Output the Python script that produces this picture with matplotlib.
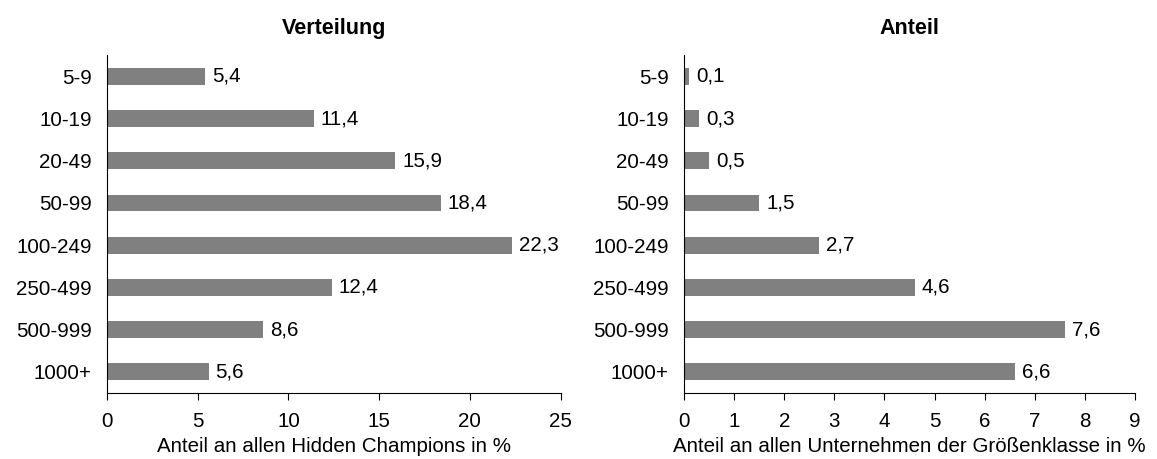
import matplotlib
matplotlib.use("Agg")
import matplotlib.pyplot as plt

plt.rcParams['font.family'] = ['Liberation Sans', 'DejaVu Sans']

categories = ["5-9", "10-19", "20-49", "50-99", "100-249", "250-499", "500-999", "1000+"]
verteilung = [5.4, 11.4, 15.9, 18.4, 22.3, 12.4, 8.6, 5.6]
anteil = [0.1, 0.3, 0.5, 1.5, 2.7, 4.6, 7.6, 6.6]
titles = ["Verteilung", "Anteil"]
xlabels = ["Anteil an allen Hidden Champions in %",
           "Anteil an allen Unternehmen der Größenklasse in %"]
xlims = [25, 9]
xticks = [list(range(0, 26, 5)), list(range(0, 10))]

FS = 14.8

fig = plt.figure(figsize=(11.57, 4.59), dpi=100)
axes = [fig.add_axes([0.0925, 0.1438, 0.392, 0.736]),
        fig.add_axes([0.5912, 0.1438, 0.3898, 0.736])]

for ax, vals, title, xl, xmax, xt in zip(axes, [verteilung, anteil], titles, xlabels, xlims, xticks):
    y = list(range(len(categories)))
    ax.barh(y, vals, height=0.4, color="#808080")
    ax.set_ylim(len(categories) - 0.5, -0.5)
    ax.set_xlim(0, xmax)
    ax.set_yticks(y)
    ax.set_yticklabels(categories, fontsize=FS)
    ax.set_xticks(xt)
    ax.set_xticklabels([str(t) for t in xt], fontsize=FS)
    ax.tick_params(axis='y', length=0, pad=11)
    ax.tick_params(axis='x', length=5, direction='out', pad=9, color='black', width=0.8)
    for s in ["top", "right"]:
        ax.spines[s].set_visible(False)
    for s in ["left", "bottom"]:
        ax.spines[s].set_color("#000000")
        ax.spines[s].set_linewidth(0.8)
    ax.set_title(title, fontsize=15.5, fontweight='bold', pad=15)
    ax.set_xlabel(xl, fontsize=FS, labelpad=4)
    for yi, v in zip(y, vals):
        ax.annotate(f"{v:.1f}".replace(".", ","), (v, yi), xytext=(5, 0),
                    textcoords="offset points", va="center", ha="left", fontsize=FS)

fig.savefig("out.png", dpi=100)
